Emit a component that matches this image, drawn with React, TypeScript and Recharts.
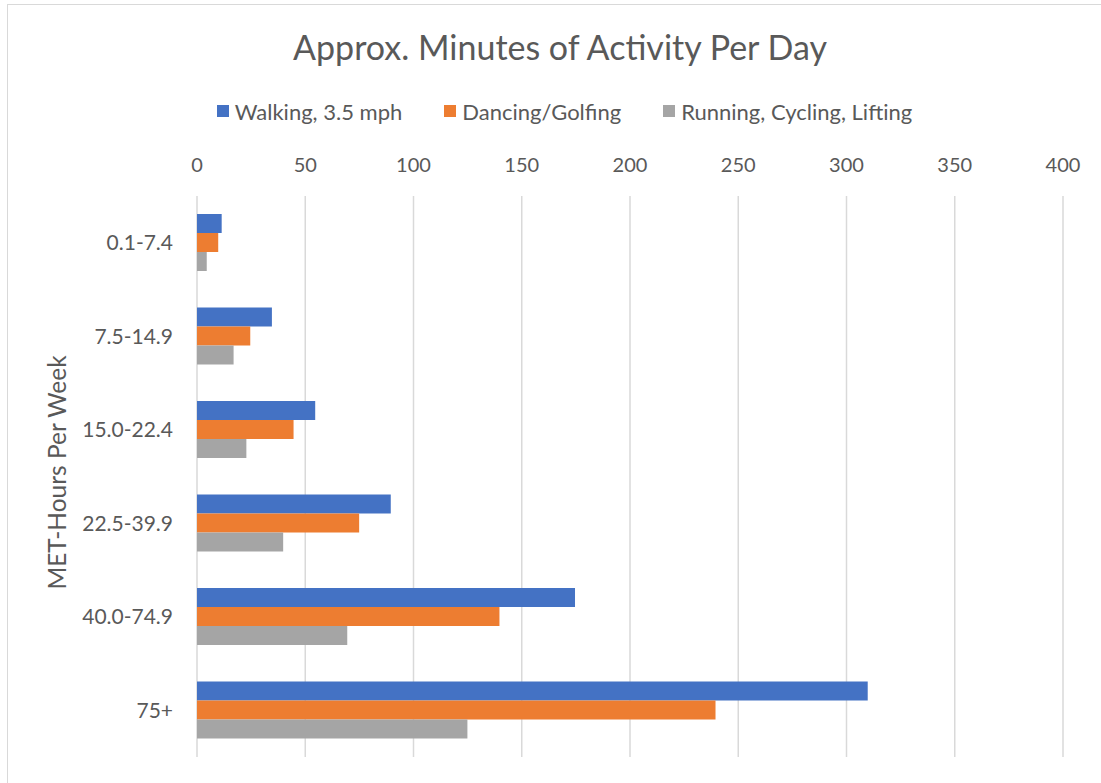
import React from 'react';
import { BarChart, Bar, XAxis, YAxis, CartesianGrid, Legend } from 'recharts';

// MET-hour bands (weekly) and approximate daily minutes for each activity type
const categories = ['0.1-7.4', '7.5-14.9', '15.0-22.4', '22.5-39.9', '40.0-74.9', '75+'];
const walking = [11.4, 34.6, 54.6, 89.5, 174.6, 309.8];
const dancing = [9.8, 24.6, 44.6, 74.9, 139.7, 239.5];
const running = [4.5, 16.9, 22.8, 39.8, 69.4, 124.9];
const xTicks = [0, 50, 100, 150, 200, 250, 300, 350, 400];

const seriesNames = ['Walking, 3.5 mph', 'Dancing/Golfing', 'Running, Cycling, Lifting'];
const seriesColors = ['#4472C4', '#ED7D31', '#A5A5A5'];

const data = categories.map((c, i) => ({
  band: c,
  walking: walking[i],
  dancing: dancing[i],
  running: running[i],
}));

const FONT = 'Lato, "Open Sans", sans-serif';
const TEXT = '#595959';

// Legend keeps the series in their drawing order
const LegendContent = (props: any) => {
  const payload = [...(props.payload || [])].sort(
    (a: any, b: any) => seriesNames.indexOf(a.value) - seriesNames.indexOf(b.value)
  );
  return (
    <div
      style={{
        display: 'flex',
        justifyContent: 'center',
        alignItems: 'center',
        height: 26,
        fontFamily: FONT,
        fontSize: 22,
        color: TEXT,
      }}
    >
      {payload.map((p: any, i: number) => (
        <div key={p.value} style={{ display: 'flex', alignItems: 'center', marginLeft: i ? 42 : 0 }}>
          <span style={{ width: 12, height: 12, background: p.color, marginRight: 6, display: 'inline-block' }} />
          <span>{p.value}</span>
        </div>
      ))}
    </div>
  );
};

const YTitle = (props: any) => {
  const vb = props.viewBox || { x: 0, y: 0, width: 0, height: 0 };
  const cx = vb.x + 48;
  const cy = vb.y + vb.height / 2 - 4;
  return (
    <text
      x={cx}
      y={cy}
      transform={`rotate(-90 ${cx} ${cy})`}
      textAnchor="middle"
      dominantBaseline="central"
      fill={TEXT}
      fontFamily={FONT}
      fontSize={24.5}
    >
      MET-Hours Per Week
    </text>
  );
};

export default function App() {
  return (
    <div
      style={{
        position: 'absolute',
        left: 7,
        top: 4,
        width: 1094,
        height: 779,
        borderLeft: '1px solid #d9d9d9',
        borderTop: '1px solid #d9d9d9',
        overflow: 'hidden',
        background: '#fff',
      }}
    >
      <div
        style={{
          position: 'absolute',
          left: 0,
          top: 22,
          width: 1104,
          textAlign: 'center',
          fontFamily: FONT,
          fontSize: 34,
          lineHeight: '40px',
          color: TEXT,
        }}
      >
        Approx. Minutes of Activity Per Day
      </div>
      <BarChart
        width={1106}
        height={778}
        data={data}
        layout="vertical"
        margin={{ top: 93, right: 51, bottom: 26, left: 0 }}
        barSize={19}
        barGap={0}
      >
        <Legend
          verticalAlign="top"
          align="center"
          content={<LegendContent />}
          wrapperStyle={{ left: 0, width: 1113 }}
        />
        <CartesianGrid horizontal={false} stroke="#d9d9d9" strokeWidth={1.5} />
        <XAxis
          type="number"
          orientation="top"
          domain={[0, 400]}
          ticks={xTicks}
          height={72}
          axisLine={false}
          tickLine={false}
          tickSize={0}
          tickMargin={24}
          interval={0}
          tick={{ fill: TEXT, fontFamily: FONT, fontSize: 20 }}
        />
        <YAxis
          type="category"
          dataKey="band"
          width={189}
          axisLine={false}
          tickLine={false}
          tickSize={0}
          tickMargin={24}
          interval={0}
          tick={{ fill: TEXT, fontFamily: FONT, fontSize: 21 }}
          label={<YTitle />}
        />
        <Bar dataKey="walking" name={seriesNames[0]} fill={seriesColors[0]} isAnimationActive={false} />
        <Bar dataKey="dancing" name={seriesNames[1]} fill={seriesColors[1]} isAnimationActive={false} />
        <Bar dataKey="running" name={seriesNames[2]} fill={seriesColors[2]} isAnimationActive={false} />
      </BarChart>
    </div>
  );
}
